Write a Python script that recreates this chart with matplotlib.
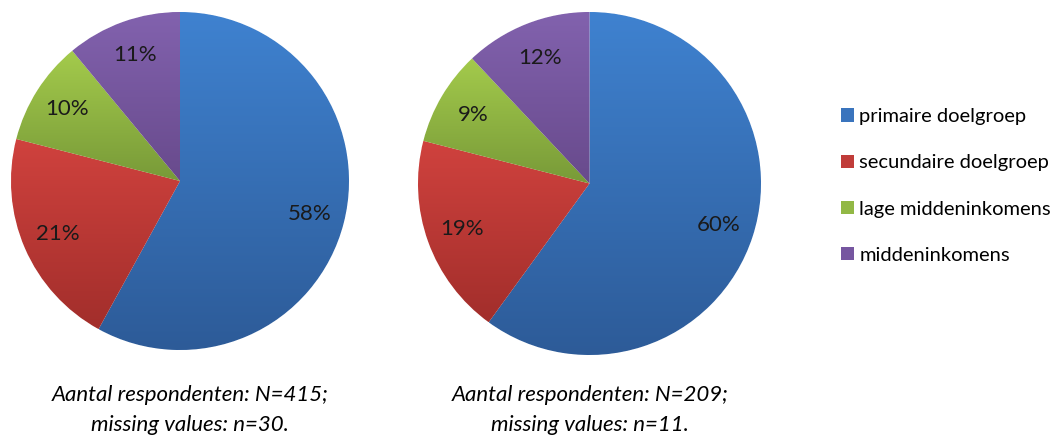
import numpy as np
import matplotlib
matplotlib.use("Agg")
import matplotlib.pyplot as plt
from matplotlib.patches import Patch
from matplotlib.colors import LinearSegmentedColormap

## data
categories = ["primaire doelgroep", "secundaire doelgroep",
              "lage middeninkomens", "middeninkomens"]
pie1_values = [58, 21, 10, 11]
pie2_values = [60, 19, 9, 12]
captions = ["Aantal respondenten: N=415;\nmissing values: n=30.",
            "Aantal respondenten: N=209;\nmissing values: n=11."]

# top / bottom colour of each slice gradient (Excel 2007 look)
top_colors = ["#3f82d0", "#d0423e", "#a4cb4c", "#8262ae"]
bottom_colors = ["#2d5b98", "#a22e2b", "#789a38", "#684a8c"]
legend_colors = ["#3a74bd", "#c03c39", "#92b845", "#7656a0"]

plt.rcParams['font.family'] = ['Lato', 'DejaVu Sans']

W, H = 1058, 437
fig = plt.figure(figsize=(W / 100, H / 100), dpi=100)


def draw_pie(cx, cy, r, values):
    ax = fig.add_axes([(cx - r) / W, (H - cy - r) / H, 2 * r / W, 2 * r / H])
    wedges, texts, autotexts = ax.pie(values, startangle=90, counterclock=False,
                                      autopct='%1.0f%%', pctdistance=0.79,
                                      colors=legend_colors,
                                      wedgeprops=dict(linewidth=0.8, edgecolor='white'),
                                      textprops=dict(fontsize=16, color='#1a1a1a'))
    for i, w in enumerate(wedges):
        ext = w.get_path().get_extents()
        cmap = LinearSegmentedColormap.from_list("g", [bottom_colors[i], top_colors[i]])
        grad = np.linspace(0, 1, 256).reshape(-1, 1)
        im = ax.imshow(grad, cmap=cmap, origin='lower', aspect='auto',
                       extent=[ext.x0, ext.x1, ext.y0, ext.y1], zorder=1.5)
        im.set_clip_path(w)
        w.set_zorder(1)
    for t in autotexts:
        t.set_zorder(3)
    ax.set_xlim(-1, 1)
    ax.set_ylim(-1, 1)
    ax.set_aspect('equal')
    ax.axis('off')
    return ax


draw_pie(180, 181, 169, pie1_values)
draw_pie(589.5, 183.5, 171.5, pie2_values)

handles = [Patch(facecolor=c, edgecolor='none') for c in legend_colors]
fig.legend(handles, categories, loc='center left',
           bbox_to_anchor=(823 / W, 1 - 186 / H), frameon=False,
           fontsize=14.5, handlelength=0.65, handleheight=0.65,
           handletextpad=0.25, labelspacing=1.45)

fig.text(190 / W, 1 - 410 / H, captions[0], ha='center', va='center',
         fontsize=16, style='italic', linespacing=1.65)
fig.text(590 / W, 1 - 410 / H, captions[1], ha='center', va='center',
         fontsize=16, style='italic', linespacing=1.65)

fig.savefig("out.png", dpi=100)
